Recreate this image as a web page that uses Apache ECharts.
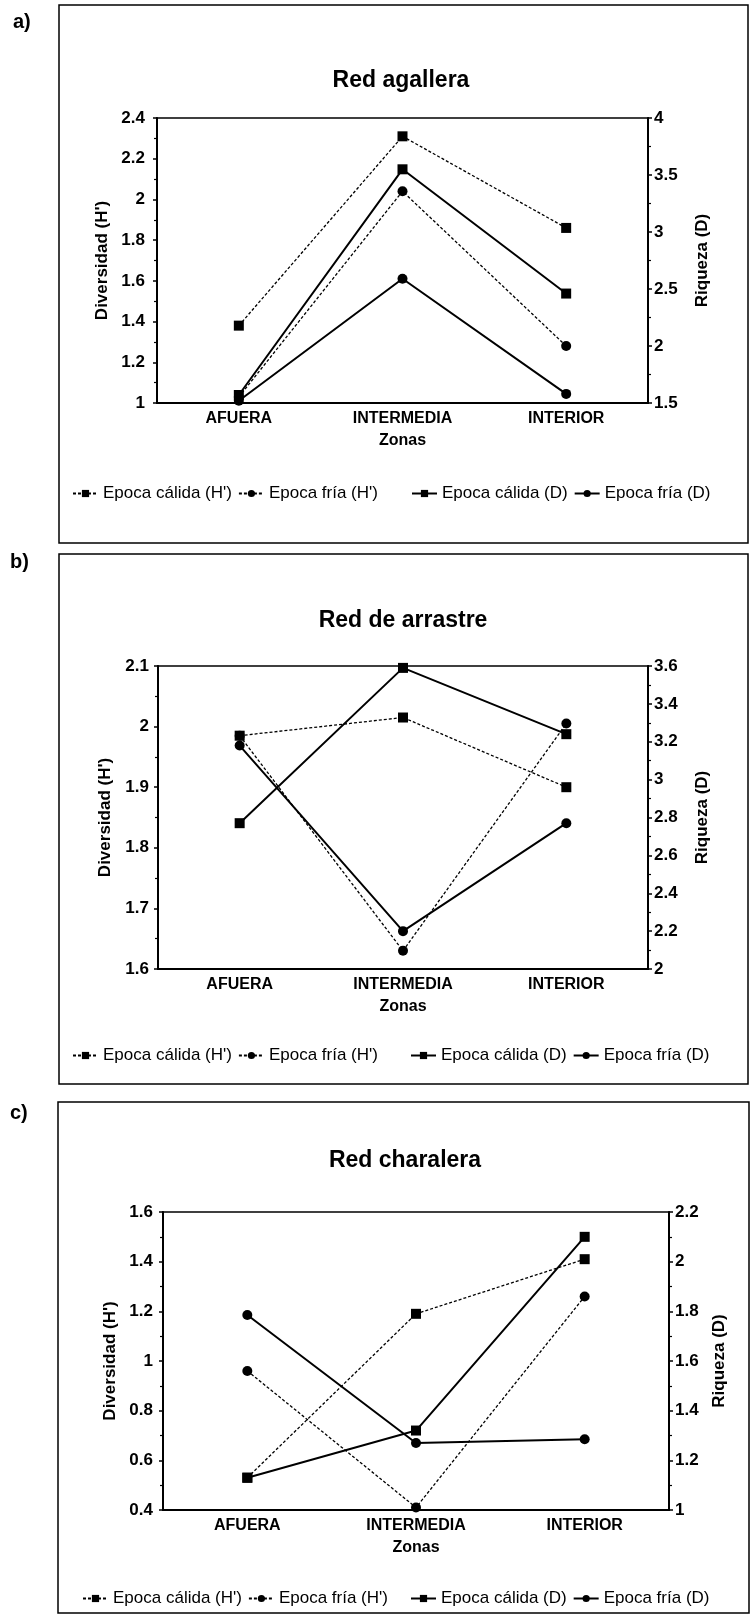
<!DOCTYPE html>
<html>
<head>
<meta charset="utf-8">
<script src="https://cdn.jsdelivr.net/npm/echarts@6/dist/echarts.min.js"></script>
<style>
html, body { margin: 0; padding: 0; background: #fff; }
#main { width: 752px; height: 1616px; }
</style>
</head>
<body>
<div id="main"></div>
<script>
// categorias del eje x
var zonas = ['AFUERA', 'INTERMEDIA', 'INTERIOR'];
var nombres = ["Epoca cálida (H')", "Epoca fría (H')", 'Epoca cálida (D)', 'Epoca fría (D)'];

// a) Red agallera
var agalleraCalidaH = [1.38, 2.31, 1.86];
var agalleraFriaH = [1.03, 2.04, 1.28];
var agalleraCalidaD = [1.57, 3.55, 2.46];
var agalleraFriaD = [1.52, 2.59, 1.58];
var agalleraEjeH = [1, 2.4, 0.2];      // min, max, intervalo
var agalleraEjeD = [1.5, 4, 0.5];

// b) Red de arrastre
var arrastreCalidaH = [1.985, 2.015, 1.90];
var arrastreFriaH = [1.985, 1.63, 2.005];
var arrastreCalidaD = [2.77, 3.59, 3.24];
var arrastreFriaD = [3.18, 2.20, 2.77];
var arrastreEjeH = [1.6, 2.1, 0.1];
var arrastreEjeD = [2, 3.6, 0.2];

// c) Red charalera
var charaleraCalidaH = [0.53, 1.19, 1.41];
var charaleraFriaH = [0.96, 0.41, 1.26];
var charaleraCalidaD = [1.13, 1.32, 2.10];
var charaleraFriaD = [1.785, 1.27, 1.285];
var charaleraEjeH = [0.4, 1.6, 0.2];
var charaleraEjeD = [1, 2.2, 0.2];

var fuente = '"Liberation Sans", Arial, sans-serif';

var option = {
    animation: false,
    backgroundColor: '#fff',
    grid: [], xAxis: [], yAxis: [], series: [], legend: [], graphic: []
};

// agrega un panel completo (marco, titulo, ejes, series, leyendas)
function panel(i, p) {
    // marco y letra del panel
    option.graphic.push({
        type: 'rect', shape: p.box,
        style: { fill: 'none', stroke: '#000', lineWidth: 1.5 }
    });
    option.graphic.push({
        type: 'text', x: p.letra[0], y: p.letra[1],
        style: { text: p.letra[2], fontSize: 20, fontWeight: 'bold', fontFamily: fuente, fill: '#000', align: 'left', verticalAlign: 'middle' }
    });
    option.graphic.push({
        type: 'text', x: p.titulo[0], y: p.titulo[1],
        style: { text: p.titulo[2], fontSize: 23, fontWeight: 'bold', fontFamily: fuente, fill: '#000', align: 'center', verticalAlign: 'middle' }
    });

    option.grid.push({
        left: p.grid[0], top: p.grid[1], width: p.grid[2], height: p.grid[3],
        show: true, borderColor: '#000', borderWidth: 1.5
    });

    option.xAxis.push({
        type: 'category', gridIndex: i, data: zonas,
        name: 'Zonas', nameLocation: 'middle', nameGap: p.gapX,
        nameTextStyle: { fontSize: 16, fontWeight: 'bold', color: '#000', fontFamily: fuente },
        axisLine: { lineStyle: { color: '#000', width: 2 } },
        axisTick: { alignWithLabel: true, length: 5, lineStyle: { color: '#000', width: 1.5 } },
        axisLabel: { margin: 8, fontSize: 16, fontWeight: 'bold', color: '#000', fontFamily: fuente }
    });

    var ejes = [
        { eje: p.ejeH, pos: 'left', nombre: 'Diversidad (H\')', gap: p.gapH, margin: p.marginH },
        { eje: p.ejeD, pos: 'right', nombre: 'Riqueza (D)', gap: p.gapD, margin: 6 }
    ];
    ejes.forEach(function (e) {
        option.yAxis.push({
            type: 'value', gridIndex: i, position: e.pos,
            min: e.eje[0], max: e.eje[1], interval: e.eje[2],
            name: e.nombre, nameLocation: 'middle', nameGap: e.gap,
            nameTextStyle: { fontSize: 17, fontWeight: 'bold', color: '#000', fontFamily: fuente },
            axisLine: { show: true, lineStyle: { color: '#000', width: 2 } },
            axisTick: { show: true, length: 4, lineStyle: { color: '#000', width: 1.5 } },
            minorTick: { show: true, splitNumber: 2, length: 3, lineStyle: { color: '#000', width: 1.2 } },
            splitLine: { show: false },
            axisLabel: { margin: e.margin, fontSize: 17, fontWeight: 'bold', color: '#000', fontFamily: fuente }
        });
    });

    // series: 2 punteadas (H') en eje izquierdo, 2 solidas (D) en eje derecho
    var datos = [p.calidaH, p.friaH, p.calidaD, p.friaD];
    datos.forEach(function (d, k) {
        var esH = k < 2;
        option.series.push({
            name: nombres[k], type: 'line',
            xAxisIndex: i, yAxisIndex: i * 2 + (esH ? 0 : 1),
            data: d,
            symbol: k % 2 === 0 ? 'rect' : 'circle',
            symbolSize: 10,
            itemStyle: { color: '#000' },
            lineStyle: esH ? { color: '#000', width: 1.3, type: [3, 2] } : { color: '#000', width: 2 }
        });
    });

    // leyendas (dos grupos, como en el original)
    var leyenda = {
        top: p.leyenda[0], itemWidth: 25, itemHeight: 9, itemGap: 6, selectedMode: false,
        textStyle: { fontSize: 17, color: '#000', fontFamily: fuente }
    };
    option.legend.push(Object.assign({}, leyenda, { left: p.leyenda[1], data: [nombres[0], nombres[1]] }));
    option.legend.push(Object.assign({}, leyenda, { left: p.leyenda[2], data: [nombres[2], nombres[3]] }));
}

panel(0, {
    box: { x: 59, y: 5, width: 689, height: 538 },
    letra: [13, 22, 'a)'], titulo: [401, 81, 'Red agallera'],
    grid: [157, 118, 491, 285], gapX: 30, gapH: 43, gapD: 46, marginH: 12,
    ejeH: agalleraEjeH, ejeD: agalleraEjeD,
    calidaH: agalleraCalidaH, friaH: agalleraFriaH, calidaD: agalleraCalidaD, friaD: agalleraFriaD,
    leyenda: [480, 67, 406]
});

panel(1, {
    box: { x: 59, y: 554, width: 689, height: 530 },
    letra: [10, 562, 'b)'], titulo: [403, 621, 'Red de arrastre'],
    grid: [158, 666, 490, 303], gapX: 30, gapH: 44, gapD: 46, marginH: 9,
    ejeH: arrastreEjeH, ejeD: arrastreEjeD,
    calidaH: arrastreCalidaH, friaH: arrastreFriaH, calidaD: arrastreCalidaD, friaD: arrastreFriaD,
    leyenda: [1042, 67, 405]
});

panel(2, {
    box: { x: 58, y: 1102, width: 691, height: 511 },
    letra: [10, 1113, 'c)'], titulo: [405, 1161, 'Red charalera'],
    grid: [163, 1212, 506, 298], gapX: 30, gapH: 37, gapD: 42, marginH: 10,
    ejeH: charaleraEjeH, ejeD: charaleraEjeD,
    calidaH: charaleraCalidaH, friaH: charaleraFriaH, calidaD: charaleraCalidaD, friaD: charaleraFriaD,
    leyenda: [1585, 77, 405]
});

var myChart = echarts.init(document.getElementById('main'));
myChart.setOption(option);
</script>
</body>
</html>
